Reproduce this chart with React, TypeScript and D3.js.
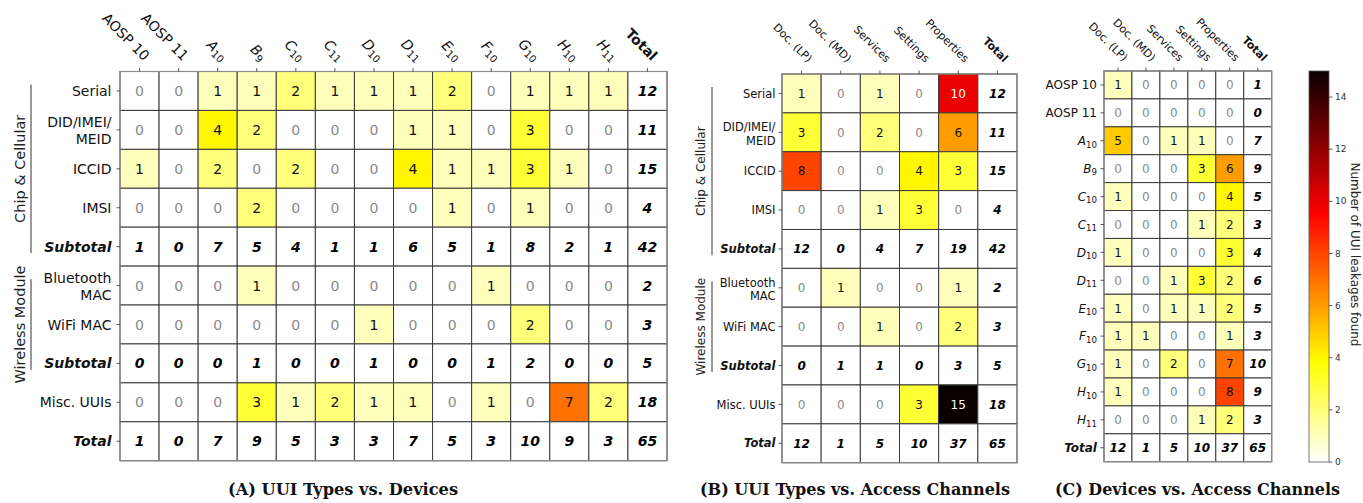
import React from "react";
import * as d3 from "d3";

// ---------- DATA ----------
const devices = ["AOSP 10", "AOSP 11", "A_10", "B_9", "C_10", "C_11", "D_10", "D_11", "E_10", "F_10", "G_10", "H_10", "H_11"];
const uuiTypes = ["Serial", "DID/IMEI/\nMEID", "ICCID", "IMSI", "Subtotal", "Bluetooth\nMAC", "WiFi MAC", "Subtotal", "Misc. UUIs", "Total"];
const channels = ["Doc. (LP)", "Doc. (MD)", "Services", "Settings", "Properties"];
const totalLabel = "Total";

// UUI types (rows) x devices (cols) + Total column
const typeByDevice = [
  [0, 0, 1, 1, 2, 1, 1, 1, 2, 0, 1, 1, 1, 12],
  [0, 0, 4, 2, 0, 0, 0, 1, 1, 0, 3, 0, 0, 11],
  [1, 0, 2, 0, 2, 0, 0, 4, 1, 1, 3, 1, 0, 15],
  [0, 0, 0, 2, 0, 0, 0, 0, 1, 0, 1, 0, 0, 4],
  [1, 0, 7, 5, 4, 1, 1, 6, 5, 1, 8, 2, 1, 42],
  [0, 0, 0, 1, 0, 0, 0, 0, 0, 1, 0, 0, 0, 2],
  [0, 0, 0, 0, 0, 0, 1, 0, 0, 0, 2, 0, 0, 3],
  [0, 0, 0, 1, 0, 0, 1, 0, 0, 1, 2, 0, 0, 5],
  [0, 0, 0, 3, 1, 2, 1, 1, 0, 1, 0, 7, 2, 18],
  [1, 0, 7, 9, 5, 3, 3, 7, 5, 3, 10, 9, 3, 65],
];

// UUI types (rows) x access channels (cols) + Total column
const typeByChannel = [
  [1, 0, 1, 0, 10, 12],
  [3, 0, 2, 0, 6, 11],
  [8, 0, 0, 4, 3, 15],
  [0, 0, 1, 3, 0, 4],
  [12, 0, 4, 7, 19, 42],
  [0, 1, 0, 0, 1, 2],
  [0, 0, 1, 0, 2, 3],
  [0, 1, 1, 0, 3, 5],
  [0, 0, 0, 3, 15, 18],
  [12, 1, 5, 10, 37, 65],
];

// devices (rows) x access channels (cols) + Total column
const deviceByChannel = [
  [1, 0, 0, 0, 0, 1],
  [0, 0, 0, 0, 0, 0],
  [5, 0, 1, 1, 0, 7],
  [0, 0, 0, 3, 6, 9],
  [1, 0, 0, 0, 4, 5],
  [0, 0, 0, 1, 2, 3],
  [1, 0, 0, 0, 3, 4],
  [0, 0, 1, 3, 2, 6],
  [1, 0, 1, 1, 2, 5],
  [1, 1, 0, 0, 1, 3],
  [1, 0, 2, 0, 7, 10],
  [1, 0, 0, 0, 8, 9],
  [0, 0, 0, 1, 2, 3],
  [12, 1, 5, 10, 37, 65],
];

const colorTicks = [0, 2, 4, 6, 8, 10, 12, 14];
const colorMax = 15;
const captions = ["(A) UUI Types vs. Devices", "(B) UUI Types vs. Access Channels", "(C) Devices vs. Access Channels"];
const groups = [
  { name: "Chip & Cellular", from: 0, to: 4 },
  { name: "Wireless Module", from: 5, to: 7 },
];

// ---------- COLORS (matplotlib hot_r) ----------
const clamp = (v: number) => Math.max(0, Math.min(1, v));
function hotR(v: number) {
  const x = 1 - v / colorMax;
  const r = clamp(0.0416 + (1 - 0.0416) * (x / 0.365079));
  const g = clamp((x - 0.365079) / (0.746032 - 0.365079));
  const b = clamp((x - 0.746032) / (1 - 0.746032));
  return d3.rgb(r * 255, g * 255, b * 255).formatHex();
}

const SANS = "'DejaVu Sans', sans-serif";

function isSummary(label: string) {
  return label === "Subtotal" || label === "Total";
}

function RichLabel({ text }: { text: string }) {
  if (text.includes("_")) {
    const [base, sub] = text.split("_");
    return (
      <>
        <tspan fontStyle="italic">{base}</tspan>
        <tspan dy="0.28em" fontSize="0.72em">{sub}</tspan>
      </>
    );
  }
  return <>{text}</>;
}

type PanelProps = {
  x0: number; y0: number; x1: number; y1: number;
  rows: string[]; cols: string[]; values: number[][];
  rowFont: number; numFont: number; xFont: number;
  rowGap: number; xdx: number; xdy: number; lineH: number; firstLineDy: number;
};

function Panel(p: PanelProps) {
  const allCols = [...p.cols, totalLabel];
  const x = d3.scaleBand<number>().domain(d3.range(allCols.length)).range([p.x0, p.x1]).padding(0);
  const y = d3.scaleBand<number>().domain(d3.range(p.rows.length)).range([p.y0, p.y1]).padding(0);
  const bw = x.bandwidth();
  const bh = y.bandwidth();
  return (
    <g fontFamily={SANS}>
      {p.values.map((row, ri) =>
        row.map((v, ci) => {
          const summary = ci === allCols.length - 1 || isSummary(p.rows[ri]);
          const fill = summary ? "#ffffff" : hotR(v);
          const tc = summary ? "#000" : v === 0 ? "#8a8a8a" : v >= 10 ? "#fff" : "#111";
          return (
            <g key={`${ri}-${ci}`}>
              <rect x={x(ci)} y={y(ri)} width={bw} height={bh} fill={fill} stroke="#3a3a3a" strokeWidth={1} />
              <text
                x={(x(ci) as number) + bw / 2}
                y={(y(ri) as number) + bh / 2}
                dy="0.36em"
                textAnchor="middle"
                fontSize={p.numFont}
                fill={tc}
                fontWeight={summary ? "bold" : "normal"}
                fontStyle={summary ? "italic" : "normal"}
              >
                {v}
              </text>
            </g>
          );
        })
      )}
      <rect x={p.x0} y={p.y0} width={p.x1 - p.x0} height={p.y1 - p.y0} fill="none" stroke="#8c8c8c" strokeWidth={1.2} />
      {p.rows.map((r, ri) => {
        const cy = (y(ri) as number) + bh / 2;
        const lines = r.split("\n");
        const summary = isSummary(r);
        return (
          <g key={`r${ri}`}>
            <line x1={p.x0 - 3.5} x2={p.x0} y1={cy} y2={cy} stroke="#333" strokeWidth={0.8} />
            {lines.length === 1 ? (
              <text x={p.x0 - p.rowGap} y={cy} dy="0.36em" textAnchor="end" fontSize={p.rowFont}
                fill="#111" fontWeight={summary ? "bold" : "normal"} fontStyle={summary ? "italic" : "normal"}>
                <RichLabel text={r} />
              </text>
            ) : (
              lines.map((ln, li) => (
                <text key={li} x={p.x0 - p.rowGap} y={cy + p.firstLineDy + li * p.lineH} textAnchor="end"
                  fontSize={p.rowFont} fill="#111">
                  {ln}
                </text>
              ))
            )}
          </g>
        );
      })}
      {allCols.map((c, ci) => {
        const cx = (x(ci) as number) + bw / 2;
        const isTot = c === totalLabel;
        return (
          <g key={`c${ci}`}>
            <line x1={cx} x2={cx} y1={p.y0 - 3.5} y2={p.y0} stroke="#333" strokeWidth={0.8} />
            <text transform={`translate(${cx + p.xdx},${p.y0 - p.xdy}) rotate(45)`} textAnchor="end"
              fontSize={p.xFont} fill="#111" fontWeight={isTot ? "bold" : "normal"}>
              <RichLabel text={c} />
            </text>
          </g>
        );
      })}
    </g>
  );
}

function GroupBrackets({ lineX, textX, y0, y1, n, fontSize, inset }: { lineX: number; textX: number; y0: number; y1: number; n: number; fontSize: number; inset: number }) {
  const y = d3.scaleBand<number>().domain(d3.range(n)).range([y0, y1]).padding(0);
  return (
    <g fontFamily={SANS}>
      {groups.map((g) => {
        const top = (y(g.from) as number) + inset;
        const bot = (y(g.to) as number) + y.bandwidth() - inset;
        return (
          <g key={g.name}>
            <line x1={lineX} x2={lineX} y1={top} y2={bot} stroke="#333" strokeWidth={1} />
            <text transform={`translate(${textX},${(top + bot) / 2}) rotate(-90)`} textAnchor="middle" fontSize={fontSize} fill="#222">
              {g.name}
            </text>
          </g>
        );
      })}
    </g>
  );
}

function Colorbar() {
  const x0 = 1309, x1 = 1329, y0 = 71, y1 = 462;
  const s = d3.scaleLinear().domain([0, colorMax]).range([y1, y0]);
  const stops = d3.range(0, colorMax + 0.001, 0.25);
  return (
    <g fontFamily={SANS}>
      <defs>
        <linearGradient id="cbar" x1="0" y1="1" x2="0" y2="0">
          {stops.map((v) => (
            <stop key={v} offset={`${(v / colorMax) * 100}%`} stopColor={hotR(v)} />
          ))}
        </linearGradient>
      </defs>
      <rect x={x0} y={y0} width={x1 - x0} height={y1 - y0} fill="url(#cbar)" stroke="#555" strokeWidth={0.8} />
      {colorTicks.map((t) => (
        <g key={t}>
          <line x1={x1} x2={x1 + 3.5} y1={s(t)} y2={s(t)} stroke="#333" strokeWidth={0.8} />
          <text x={x1 + 6} y={s(t)} dy="0.35em" fontSize={9} fill="#333">{t}</text>
        </g>
      ))}
      <text transform={`translate(1351,${(y0 + y1) / 2 - 12}) rotate(90)`} textAnchor="middle" fontSize={12} fill="#222">
        Number of UUI leakages found
      </text>
    </g>
  );
}

const captionSpans = [[228, 458], [700, 1010], [1055, 1340]];
const captionScale = 0.8;

export default function App() {
  return (
    <svg width={1363} height={503} style={{ position: "absolute", left: 0, top: 0, background: "#fff" }}>
      <rect width={1363} height={503} fill="#fff" />
      <Panel x0={120} y0={71.5} x1={667} y1={460.7} rows={uuiTypes} cols={devices} values={typeByDevice}
        rowFont={14} numFont={14} xFont={14} rowGap={8.5} xdx={4} xdy={10} lineH={17} firstLineDy={-2.5} />
      <GroupBrackets lineX={31} textX={25} y0={71.5} y1={460.7} n={uuiTypes.length} fontSize={14.5} inset={13} />
      <Panel x0={782} y0={74} x1={1017} y1={462.7} rows={uuiTypes} cols={channels} values={typeByChannel}
        rowFont={11.5} numFont={12} xFont={11} rowGap={6.5} xdx={6} xdy={11} lineH={13.5} firstLineDy={-1} />
      <GroupBrackets lineX={712} textX={705} y0={74} y1={462.7} n={uuiTypes.length} fontSize={12} inset={13} />
      <Panel x0={1104} y0={71} x1={1271.7} y1={461.7} rows={[...devices, "Total"]} cols={channels} values={deviceByChannel}
        rowFont={12} numFont={12} xFont={11} rowGap={7} xdx={5} xdy={9} lineH={13} firstLineDy={0} />
      <Colorbar />
      {captionSpans.map(([a, b], i) => (
        <text key={i} transform={`translate(${(a + b) / 2},495) scale(${captionScale},1)`} textAnchor="middle"
          fontFamily="'DejaVu Serif', serif" fontWeight="bold" fontSize={17.5}
          textLength={(b - a) / captionScale} lengthAdjust="spacingAndGlyphs" fill="#111">
          {captions[i]}
        </text>
      ))}
    </svg>
  );
}
